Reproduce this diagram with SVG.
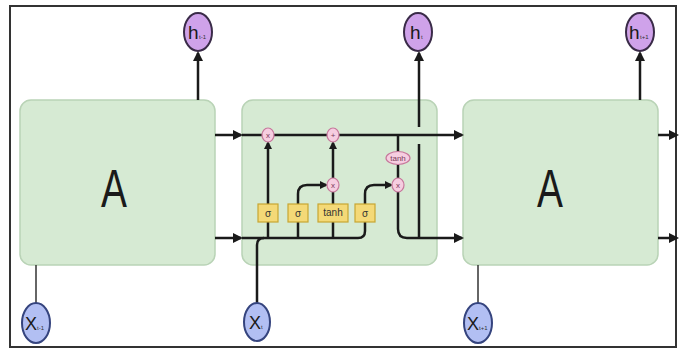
<svg xmlns="http://www.w3.org/2000/svg" width="679" height="351" viewBox="0 0 679 351">
<defs>
<marker id="ah" markerWidth="8" markerHeight="8" refX="6" refY="4" orient="auto" markerUnits="userSpaceOnUse">
<path d="M0,0 L8,4 L0,8 Z" fill="#1a1a1a"/>
</marker>
<marker id="ahs" markerWidth="10" markerHeight="10" refX="8" refY="5" orient="auto" markerUnits="userSpaceOnUse">
<path d="M0,0 L10,5 L0,10 Z" fill="#1a1a1a"/>
</marker>
</defs>
<style>
.cell{fill:#d6ead3;stroke:#b9d3b6;stroke-width:1.5}
.ln{fill:none;stroke:#1a1a1a;stroke-width:2.5}
.thin{fill:none;stroke:#333;stroke-width:1.5}
.pw{fill:#f6cde0;stroke:#c7789c;stroke-width:1.2}
.gate{fill:#f4d977;stroke:#c7a632;stroke-width:1.2}
.hc{fill:#cfa2ea;stroke:#3a2b48;stroke-width:2}
.xc{fill:#b2bff3;stroke:#35447e;stroke-width:2}
.big{font-family:"Liberation Sans",Arial,sans-serif;fill:#1a1a1a}
.op{font-family:"Liberation Sans",Arial,sans-serif;font-size:8px;fill:#7a3a5a;text-anchor:middle}
.gt{font-family:"Liberation Sans",Arial,sans-serif;font-size:10px;fill:#333;text-anchor:middle}
.sub{font-family:"Liberation Sans",Arial,sans-serif;font-size:6px;fill:#333}
</style>
<rect x="10" y="6" width="666" height="341" fill="#fff" stroke="#333" stroke-width="2"/>

<g id="cellA1">
<rect class="cell" x="20" y="100" width="195" height="165" rx="11"/>
<text class="big" font-size="54" text-anchor="middle" transform="translate(114,207) scale(0.72,1)">A</text>
</g>
<g id="cellA2">
<rect class="cell" x="242" y="100" width="195" height="165" rx="11"/>
</g>
<g id="cellA3">
<rect class="cell" x="463" y="100" width="195" height="165" rx="11"/>
<text class="big" font-size="54" text-anchor="middle" transform="translate(550,207) scale(0.72,1)">A</text>
</g>

<g id="connectors">
<line class="ln" x1="215" y1="135" x2="241" y2="135" marker-end="url(#ahs)"/>
<line class="ln" x1="215" y1="238" x2="241" y2="238" marker-end="url(#ahs)"/>
<line class="ln" x1="242" y1="135" x2="462" y2="135" marker-end="url(#ahs)"/>
<line class="ln" x1="658" y1="135" x2="677" y2="135" marker-end="url(#ahs)"/>
<line class="ln" x1="658" y1="238" x2="677" y2="238" marker-end="url(#ahs)"/>
<line class="ln" x1="198" y1="100" x2="198" y2="53" marker-end="url(#ahs)"/>
<line class="ln" x1="640" y1="100" x2="640" y2="53" marker-end="url(#ahs)"/>
<path class="ln" d="M419,238 V144"/>
<path class="ln" d="M419,127 V53" marker-end="url(#ahs)"/>
<line class="thin" x1="36" y1="265" x2="36" y2="303"/>
<line class="thin" x1="478" y1="265" x2="478" y2="303"/>
<path class="ln" d="M257,303 V245 Q257,238 264,238"/>
<path class="ln" d="M242,238 H358 Q365,238 365,231 V194 Q365,185 374,185 H391" marker-end="url(#ah)"/>
<path class="ln" d="M268,238 V143" marker-end="url(#ah)"/>
<path class="ln" d="M298,238 V194 Q298,185 307,185 H326" marker-end="url(#ah)"/>
<path class="ln" d="M333,238 V192"/>
<path class="ln" d="M333,178 V143" marker-end="url(#ah)"/>
<path class="ln" d="M398,135 V152"/>
<path class="ln" d="M398,164 V178"/>
<path class="ln" d="M398,192 V229 Q398,238 407,238 H462" marker-end="url(#ahs)"/>
</g>

<g id="op-mul1"><ellipse class="pw" cx="268" cy="135" rx="6" ry="7"/><text class="op" x="268" y="138">x</text></g>
<g id="op-add"><ellipse class="pw" cx="333" cy="135" rx="6" ry="7"/><text class="op" x="333" y="138">+</text></g>
<g id="op-mul2"><ellipse class="pw" cx="333" cy="185" rx="6" ry="7"/><text class="op" x="333" y="188">x</text></g>
<g id="op-tanh"><ellipse class="pw" cx="398" cy="158" rx="12" ry="6.5"/><text class="op" x="398" y="161">tanh</text></g>
<g id="op-mul3"><ellipse class="pw" cx="398" cy="185" rx="6" ry="7"/><text class="op" x="398" y="188">x</text></g>

<g id="gate-f"><rect class="gate" x="258" y="204" width="20" height="18"/><text class="gt" x="268" y="217">σ</text></g>
<g id="gate-i"><rect class="gate" x="288" y="204" width="20" height="18"/><text class="gt" x="298" y="217">σ</text></g>
<g id="gate-c"><rect class="gate" x="318" y="204" width="30" height="18"/><text class="gt" x="333" y="216" font-size="9">tanh</text></g>
<g id="gate-o"><rect class="gate" x="355" y="204" width="20" height="18"/><text class="gt" x="365" y="217">σ</text></g>

<g id="h-prev"><ellipse class="hc" cx="198" cy="32" rx="14" ry="19"/><text class="big" font-size="19" x="188" y="39">h</text><text class="sub" x="199" y="39">t-1</text></g>
<g id="h-cur"><ellipse class="hc" cx="418" cy="32" rx="14" ry="19"/><text class="big" font-size="19" x="410" y="39">h</text><text class="sub" x="421" y="39">t</text></g>
<g id="h-next"><ellipse class="hc" cx="640" cy="32" rx="14" ry="19"/><text class="big" font-size="19" x="629" y="39">h</text><text class="sub" x="640" y="39">t+1</text></g>

<g id="x-prev"><ellipse class="xc" cx="36" cy="323" rx="14" ry="20"/><text class="big" font-size="18" x="25" y="330">X</text><text class="sub" x="37" y="330">t-1</text></g>
<g id="x-cur"><ellipse class="xc" cx="257" cy="322" rx="13" ry="19"/><text class="big" font-size="18" x="249" y="329">X</text><text class="sub" x="261" y="329">t</text></g>
<g id="x-next"><ellipse class="xc" cx="478" cy="323" rx="14" ry="20"/><text class="big" font-size="18" x="467" y="330">X</text><text class="sub" x="479" y="330">t+1</text></g>
</svg>
